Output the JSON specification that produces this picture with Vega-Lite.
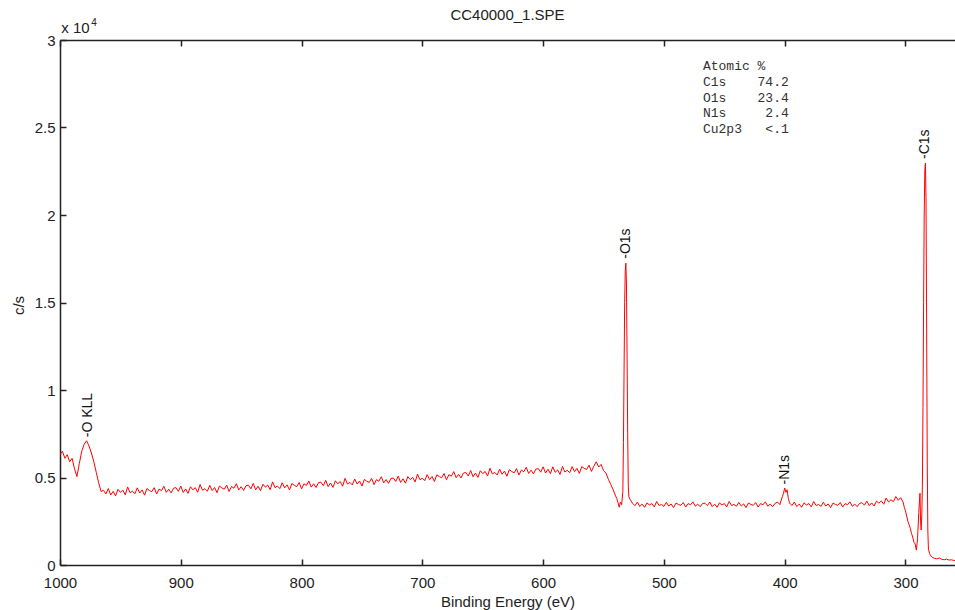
{
"$schema":"https://vega.github.io/schema/vega-lite/v6.json",
"width":895,"height":525,
"autosize":{"type":"none"},
"padding":{"left":60,"top":40,"right":0,"bottom":45},
"background":"white",
"config":{"view":{"stroke":null},"font":"Liberation Sans","axis":{"domainColor":"#222","domainWidth":1.5,"tickColor":"#222","tickWidth":1.5,"tickSize":-6,"labelColor":"#222","labelFont":"Liberation Sans","labelFontSize":15,"titleFont":"Liberation Sans","titleFontSize":15,"titleFontWeight":"normal","titleColor":"#222","grid":false}},
"datasets":{
"spectrum":[
{"e":1000,"c":6300},{"e":998,"c":6500},{"e":996,"c":6100},{"e":994,"c":6300},{"e":992,"c":5900},{"e":990,"c":6100},{"e":988,"c":5500},{"e":986,"c":5050},{"e":984,"c":5800},{"e":982,"c":6500},{"e":980,"c":6900},{"e":978,"c":7100},{"e":976,"c":6800},{"e":974,"c":6400},{"e":972,"c":5900},{"e":970,"c":5300},{"e":968,"c":4700},{"e":966,"c":4200},
{"e":964,"c":4270},{"e":962,"c":4060},{"e":960,"c":4370},{"e":958,"c":4000},{"e":956,"c":4210},{"e":954,"c":3950},{"e":952,"c":4330},{"e":950,"c":4150},{"e":948,"c":4280},{"e":946,"c":4010},{"e":944,"c":4460},{"e":942,"c":4130},{"e":940,"c":4220},{"e":938,"c":4070},{"e":936,"c":4410},{"e":934,"c":4110},{"e":932,"c":4290},{"e":930,"c":3990},{"e":928,"c":4370},{"e":926,"c":4260},{"e":924,"c":4190},{"e":922,"c":4420},{"e":920,"c":4060},{"e":918,"c":4340},{"e":916,"c":4250},{"e":914,"c":4500},{"e":912,"c":4150},{"e":910,"c":4330},{"e":908,"c":4120},{"e":906,"c":4390},{"e":904,"c":4420},{"e":902,"c":4210},{"e":900,"c":4510},
{"e":898,"c":4145},{"e":896,"c":4350},{"e":894,"c":4095},{"e":892,"c":4470},{"e":890,"c":4295},{"e":888,"c":4420},{"e":886,"c":4155},{"e":884,"c":4600},{"e":882,"c":4275},{"e":880,"c":4360},{"e":878,"c":4215},{"e":876,"c":4550},{"e":874,"c":4255},{"e":872,"c":4430},{"e":870,"c":4135},{"e":868,"c":4510},{"e":866,"c":4405},{"e":864,"c":4330},{"e":862,"c":4565},{"e":860,"c":4200},{"e":858,"c":4485},{"e":856,"c":4390},{"e":854,"c":4645},{"e":852,"c":4290},{"e":850,"c":4475},{"e":848,"c":4260},{"e":846,"c":4535},{"e":844,"c":4560},{"e":842,"c":4355},{"e":840,"c":4660},{"e":838,"c":4295},{"e":836,"c":4500},{"e":834,"c":4245},{"e":832,"c":4620},{"e":830,"c":4445},{"e":828,"c":4570},{"e":826,"c":4305},{"e":824,"c":4750},{"e":822,"c":4425},{"e":820,"c":4510},{"e":818,"c":4365},{"e":816,"c":4700},{"e":814,"c":4405},{"e":812,"c":4580},{"e":810,"c":4285},{"e":808,"c":4660},{"e":806,"c":4555},{"e":804,"c":4480},{"e":802,"c":4715},{"e":800,"c":4350},
{"e":798,"c":4640},{"e":796,"c":4546},{"e":794,"c":4804},{"e":792,"c":4452},{"e":790,"c":4640},{"e":788,"c":4428},{"e":786,"c":4706},{"e":784,"c":4734},{"e":782,"c":4532},{"e":780,"c":4840},{"e":778,"c":4478},{"e":776,"c":4686},{"e":774,"c":4434},{"e":772,"c":4812},{"e":770,"c":4640},{"e":768,"c":4768},{"e":766,"c":4506},{"e":764,"c":4954},{"e":762,"c":4632},{"e":760,"c":4720},{"e":758,"c":4578},{"e":756,"c":4916},{"e":754,"c":4624},{"e":752,"c":4802},{"e":750,"c":4510},{"e":748,"c":4888},{"e":746,"c":4786},{"e":744,"c":4714},{"e":742,"c":4952},{"e":740,"c":4590},{"e":738,"c":4878},{"e":736,"c":4786},{"e":734,"c":5044},{"e":732,"c":4692},{"e":730,"c":4880},{"e":728,"c":4668},{"e":726,"c":4946},{"e":724,"c":4974},{"e":722,"c":4772},{"e":720,"c":5080},{"e":718,"c":4718},{"e":716,"c":4926},{"e":714,"c":4674},{"e":712,"c":5052},{"e":710,"c":4880},{"e":708,"c":5008},{"e":706,"c":4746},{"e":704,"c":5194},{"e":702,"c":4872},{"e":700,"c":4960},
{"e":698,"c":4822},{"e":696,"c":5164},{"e":694,"c":4876},{"e":692,"c":5058},{"e":690,"c":4770},{"e":688,"c":5152},{"e":686,"c":5054},{"e":684,"c":4986},{"e":682,"c":5228},{"e":680,"c":4870},{"e":678,"c":5162},{"e":676,"c":5074},{"e":674,"c":5336},{"e":672,"c":4988},{"e":670,"c":5180},{"e":668,"c":4972},{"e":666,"c":5254},{"e":664,"c":5286},{"e":662,"c":5088},{"e":660,"c":5400},{"e":658,"c":5042},{"e":656,"c":5254},{"e":654,"c":5006},{"e":652,"c":5388},{"e":650,"c":5220},{"e":648,"c":5346},{"e":646,"c":5082},{"e":644,"c":5528},{"e":642,"c":5204},{"e":640,"c":5290},{"e":638,"c":5146},{"e":636,"c":5482},{"e":634,"c":5188},{"e":632,"c":5364},{"e":630,"c":5070},{"e":628,"c":5446},{"e":626,"c":5342},{"e":624,"c":5268},{"e":622,"c":5504},{"e":620,"c":5140},{"e":618,"c":5426},{"e":616,"c":5332},{"e":614,"c":5588},{"e":612,"c":5234},{"e":610,"c":5420},{"e":608,"c":5206},{"e":606,"c":5482},{"e":604,"c":5508},{"e":602,"c":5304},{"e":600,"c":5610},
{"e":598,"c":5255},{"e":596,"c":5470},{"e":594,"c":5225},{"e":592,"c":5610},{"e":590,"c":5295},{"e":588,"c":5430},{"e":586,"c":5175},{"e":584,"c":5630},{"e":582,"c":5315},{"e":580,"c":5410},{"e":578,"c":5275},{"e":576,"c":5620},{"e":574,"c":5335},{"e":572,"c":5520},{"e":570,"c":5235},{"e":568,"c":5620},{"e":566,"c":5525},{"e":564,"c":5460},{"e":562,"c":5705},{"e":560,"c":5350},
{"e":558,"c":5650},{"e":556,"c":5900},{"e":554,"c":5600},{"e":552,"c":5750},{"e":550,"c":5400},{"e":548,"c":5250},{"e":546,"c":4900},{"e":544,"c":4600},{"e":542,"c":4300},{"e":540,"c":3950},{"e":539,"c":3800},{"e":538,"c":3550},{"e":537,"c":3300},{"e":536,"c":3600},{"e":535,"c":3450},{"e":534,"c":4200},{"e":533.5,"c":7000},{"e":533,"c":11000},{"e":532.5,"c":15000},{"e":532,"c":16800},{"e":531.5,"c":17250},{"e":531,"c":16000},{"e":530.5,"c":12000},{"e":530,"c":7500},{"e":529.5,"c":4500},{"e":529,"c":3900},{"e":528,"c":3750},
{"e":526,"c":3530},{"e":524,"c":3390},{"e":522,"c":3600},{"e":520,"c":3340},{"e":518,"c":3480},{"e":516,"c":3300},{"e":514,"c":3550},{"e":512,"c":3430},{"e":510,"c":3510},{"e":508,"c":3320},{"e":506,"c":3630},{"e":504,"c":3400},{"e":502,"c":3460},{"e":500,"c":3350},{"e":498,"c":3580},{"e":496,"c":3370},{"e":494,"c":3490},{"e":492,"c":3280},{"e":490,"c":3540},{"e":488,"c":3460},{"e":486,"c":3410},{"e":484,"c":3570},{"e":482,"c":3310},{"e":480,"c":3510},{"e":478,"c":3440},{"e":476,"c":3610},{"e":474,"c":3360},{"e":472,"c":3480},{"e":470,"c":3330},{"e":468,"c":3520},{"e":466,"c":3530},{"e":464,"c":3390},{"e":462,"c":3600},{"e":460,"c":3340},{"e":458,"c":3480},{"e":456,"c":3300},{"e":454,"c":3550},{"e":452,"c":3430},{"e":450,"c":3510},{"e":448,"c":3320},{"e":446,"c":3630},{"e":444,"c":3400},{"e":442,"c":3460},{"e":440,"c":3350},{"e":438,"c":3580},{"e":436,"c":3370},{"e":434,"c":3490},{"e":432,"c":3280},{"e":430,"c":3540},{"e":428,"c":3460},{"e":426,"c":3410},{"e":424,"c":3570},{"e":422,"c":3310},{"e":420,"c":3510},{"e":418,"c":3440},{"e":416,"c":3610},{"e":414,"c":3360},{"e":412,"c":3480},{"e":410,"c":3330},{"e":408,"c":3520},{"e":406,"c":3600},{"e":404,"c":3450},{"e":402,"c":3900},{"e":401,"c":4100},{"e":400,"c":4400},{"e":399,"c":4150},{"e":398,"c":4300},{"e":397,"c":3800},{"e":396,"c":3550},{"e":394,"c":3400},
{"e":392,"c":3600},{"e":390,"c":3340},{"e":388,"c":3480},{"e":386,"c":3300},{"e":384,"c":3550},{"e":382,"c":3430},{"e":380,"c":3510},{"e":378,"c":3320},{"e":376,"c":3630},{"e":374,"c":3400},{"e":372,"c":3460},{"e":370,"c":3350},{"e":368,"c":3580},{"e":366,"c":3370},{"e":364,"c":3490},{"e":362,"c":3280},{"e":360,"c":3540},{"e":358,"c":3460},{"e":356,"c":3410},{"e":354,"c":3570},{"e":352,"c":3310},{"e":350,"c":3510},{"e":348,"c":3440},{"e":346,"c":3610},{"e":344,"c":3360},{"e":342,"c":3480},{"e":340,"c":3330},{"e":338,"c":3520},{"e":336,"c":3560},{"e":334,"c":3420},{"e":332,"c":3650},{"e":330,"c":3390},{"e":328,"c":3550},{"e":326,"c":3370},{"e":324,"c":3650},{"e":322,"c":3530},{"e":320,"c":3660},{"e":318,"c":3470},{"e":316,"c":3830},{"e":314,"c":3600},{"e":312,"c":3730},{"e":310,"c":3620},{"e":308,"c":3910},{"e":306,"c":3700},
{"e":304,"c":3850},{"e":302,"c":3600},{"e":301,"c":3300},{"e":300,"c":3100},{"e":299,"c":2800},{"e":298,"c":2500},{"e":297,"c":2300},{"e":296,"c":2100},{"e":295,"c":1800},{"e":294,"c":1600},{"e":293,"c":1300},{"e":292,"c":1200},{"e":291,"c":850},{"e":290,"c":1500},{"e":289,"c":3000},{"e":288,"c":4100},{"e":287.5,"c":2500},{"e":287,"c":2000},{"e":286.5,"c":2800},{"e":286,"c":4500},{"e":285.5,"c":9000},{"e":285,"c":15000},{"e":284.5,"c":20000},{"e":284,"c":22500},{"e":283.5,"c":22970},{"e":283,"c":21000},{"e":282.5,"c":14000},{"e":282,"c":6000},{"e":281.5,"c":2000},{"e":281,"c":900},{"e":280,"c":650},{"e":279,"c":520},{"e":278,"c":450},{"e":276,"c":380},{"e":274,"c":350},{"e":272,"c":400},{"e":270,"c":330},{"e":268,"c":300},{"e":266,"c":340},{"e":264,"c":280},{"e":262,"c":300},{"e":260,"c":260},{"e":258,"c":250}
],
"peaks":[{"label":"-O KLL","e":977,"c":7300},{"label":"-O1s","e":531.5,"c":17500},{"label":"-N1s","e":399.5,"c":4600},{"label":"-C1s","e":283.5,"c":23200}],
"table":[{"line":"Atomic\u00a0%","c":28530},{"line":"C1s\u00a0\u00a0\u00a0\u00a074.2","c":27580},{"line":"O1s\u00a0\u00a0\u00a0\u00a023.4","c":26700},{"line":"N1s\u00a0\u00a0\u00a0\u00a0\u00a02.4","c":25820},{"line":"Cu2p3\u00a0\u00a0\u00a0<.1","c":24910}],
"multiplier":[{"t":"x 10","c":30690}],
"exponent":[{"t":"4","c":30980}],
"heading":[{"t":"CC40000_1.SPE","c":31430}]
},
"layer":[
{"data":{"name":"spectrum"},"mark":{"type":"line","color":"#ff0000","strokeWidth":1,"clip":true},
"encoding":{
"x":{"field":"e","type":"quantitative","scale":{"domain":[259,1000],"reverse":true,"nice":false,"zero":false},"axis":{"orient":"bottom","values":[1000,900,800,700,600,500,400,300],"format":"d","labelPadding":16,"labelBaseline":"top","labelFlush":false,"labelOverlap":false,"title":"Binding Energy (eV)","titleX":447.5,"titleY":36,"titleBaseline":"middle"}},
"y":{"field":"c","type":"quantitative","scale":{"domain":[0,30000],"nice":false,"zero":false},"axis":{"values":[0,5000,10000,15000,20000,25000,30000],"labelExpr":"datum.value/10000","labelPadding":11,"labelBaseline":"middle","labelFlush":false,"title":"c/s","titleX":-42,"titleY":265,"titleAngle":270,"titleBaseline":"middle","titleAlign":"center"}}}},
{"data":{"name":"peaks"},"mark":{"type":"text","angle":270,"align":"left","baseline":"middle","fontSize":14,"color":"#111","font":"Liberation Sans"},
"encoding":{
"x":{"field":"e","type":"quantitative","axis":{"orient":"top","values":[1000,900,800,700,600,500,400,300],"labels":false,"title":null}},
"y":{"field":"c","type":"quantitative"},
"text":{"field":"label"}}},
{"data":{"name":"table"},"mark":{"type":"text","align":"left","baseline":"middle","font":"Liberation Mono","fontSize":13,"color":"#333"},
"encoding":{"x":{"datum":467.7,"axis":null},"y":{"field":"c","type":"quantitative"},"text":{"field":"line"}}},
{"data":{"name":"multiplier"},"mark":{"type":"text","align":"left","baseline":"middle","fontSize":15,"color":"#222","font":"Liberation Sans"},
"encoding":{"x":{"datum":999,"axis":null},"y":{"field":"c","type":"quantitative"},"text":{"field":"t"}}},
{"data":{"name":"exponent"},"mark":{"type":"text","align":"left","baseline":"middle","fontSize":10,"color":"#222","dx":30,"font":"Liberation Sans"},
"encoding":{"x":{"datum":999,"axis":null},"y":{"field":"c","type":"quantitative"},"text":{"field":"t"}}},
{"data":{"name":"heading"},"mark":{"type":"text","align":"center","baseline":"middle","fontSize":15,"color":"#222","font":"Liberation Sans"},
"encoding":{"x":{"datum":629.5,"axis":null},"y":{"field":"c","type":"quantitative"},"text":{"field":"t"}}}
],
"resolve":{"axis":{"x":"independent"}}
}
